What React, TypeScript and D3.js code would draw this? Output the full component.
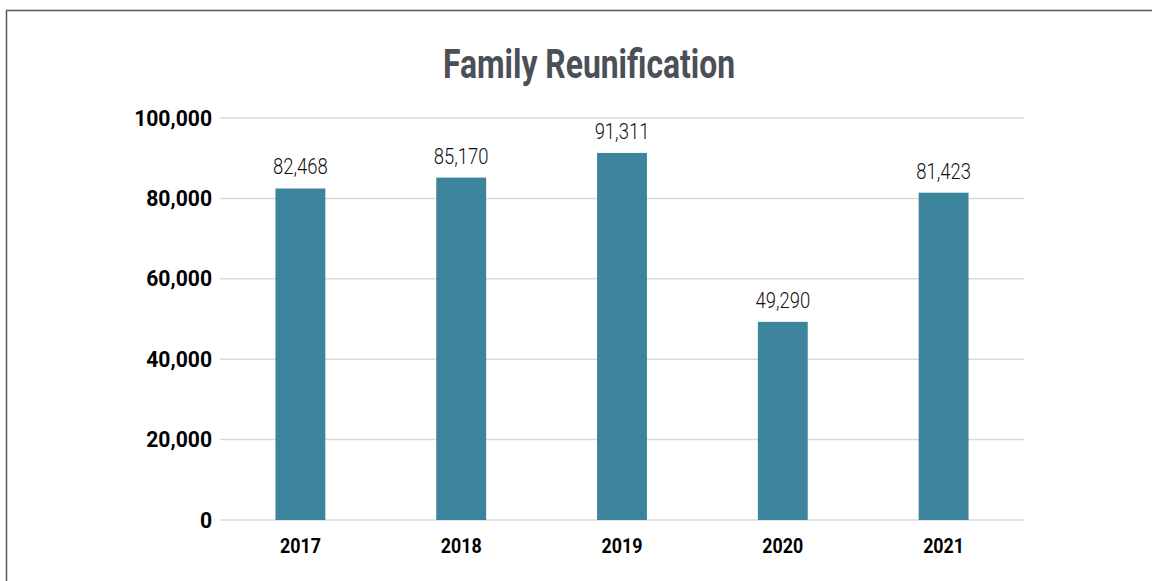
import React from "react";
import * as d3 from "d3";

const years = ["2017", "2018", "2019", "2020", "2021"];
const values = [82468, 85170, 91311, 49290, 81423];
const yTicks = [0, 20000, 40000, 60000, 80000, 100000];
const title = "Family Reunification";

export default function App() {
  const W = 1152, H = 581;
  const x = d3.scaleBand<string>().domain(years).range([220, 1024]).paddingInner(0.69).paddingOuter(0.345);
  const y = d3.scaleLinear().domain([0, 100000]).range([520, 118]);
  const fmt = d3.format(",");
  const font = "Roboto, 'DejaVu Sans', sans-serif";
  return (
    <svg width={W} height={H} style={{ position: "absolute", left: 0, top: 0, background: "#fff" }}>
      <rect x={0} y={0} width={W} height={H} fill="#fff" />
      <path d={`M6.5,${H} V10.5 H${W}`} fill="none" stroke="#555a63" strokeWidth={1.5} />
      <text x={589} y={78} textAnchor="middle" fontFamily={font} fontWeight={700} fontSize={40}
        fill="#4b4f57" textLength={292} lengthAdjust="spacingAndGlyphs">{title}</text>
      {yTicks.map((t) => (
        <g key={t}>
          <line x1={220} x2={1024} y1={y(t)} y2={y(t)} stroke="#d9d9d9" strokeWidth={1.5} />
          <text transform={`translate(212,${y(t) + 7.5}) scale(0.96,1)`} textAnchor="end" fontFamily={font}
            fontWeight={700} fontSize={22} fill="#000">{fmt(t)}</text>
        </g>
      ))}
      {years.map((yr, i) => {
        const bx = x(yr)!;
        const cx = bx + x.bandwidth() / 2;
        return (
          <g key={yr}>
            <rect x={bx} y={y(values[i])} width={x.bandwidth()} height={y(0) - y(values[i])} fill="#3b849b" />
            <text transform={`translate(${cx},${y(values[i]) - 14}) scale(0.84,1)`} textAnchor="middle"
              fontFamily={font} fontWeight={300} fontSize={22} fill="#111">{fmt(values[i])}</text>
            <text transform={`translate(${cx},553) scale(0.85,1)`} textAnchor="middle" fontFamily={font}
              fontWeight={700} fontSize={21} fill="#000">{yr}</text>
          </g>
        );
      })}
    </svg>
  );
}
